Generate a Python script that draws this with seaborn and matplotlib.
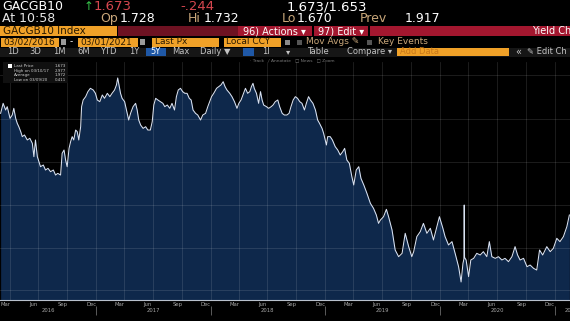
import matplotlib
matplotlib.use("Agg")
import matplotlib.pyplot as plt
import matplotlib.dates as mdates
from matplotlib.patches import Rectangle
import numpy as np
import pandas as pd
import seaborn as sns

# ---------------- data ----------------
start_date = "2016-03-01"
visible_days = 1816          # the screenshot is cropped a little before 03/01/2021
days_since_start = [
    2, 10, 18, 23, 32, 39, 44, 50, 55, 60,
    66, 71, 78, 87, 95, 103, 108, 113, 119, 129,
    138, 145, 153, 161, 170, 177, 184, 193, 198, 204,
    209, 214, 220, 225, 230, 235, 241, 246, 251, 257,
    260, 265, 273, 280, 288, 297, 304, 310, 318, 326,
    333, 342, 350, 357, 365, 371, 375, 380, 384, 389,
    397, 403, 410, 416, 424, 432, 437, 442, 448, 456,
    464, 471, 479, 485, 490, 496, 503, 511, 519, 525,
    533, 541, 548, 556, 562, 568, 575, 582, 589, 596,
    603, 609, 615, 623, 630, 639, 646, 655, 662, 668,
    674, 681, 690, 697, 704, 711, 717, 723, 732, 739,
    747, 755, 761, 768, 774, 782, 789, 796, 801, 806,
    810, 817, 824, 830, 835, 840, 849, 856, 864, 870,
    877, 885, 891, 899, 906, 914, 921, 927, 934, 941,
    948, 955, 962, 970, 976, 983, 989, 997, 1005, 1012,
    1018, 1026, 1031, 1036, 1040, 1044, 1052, 1059, 1068, 1076,
    1084, 1092, 1098, 1105, 1113, 1121, 1127, 1135, 1143, 1150,
    1159, 1169, 1180, 1190, 1199, 1206,
    1212, 1222, 1231, 1238, 1249, 1259, 1270, 1281, 1291, 1302, 1312, 1318, 1328, 1339, 1349, 1360,
    1371, 1381, 1392, 1400, 1411, 1418, 1429, 1440, 1450, 1461,
    1469, 1475, 1478, 1479, 1480, 1485, 1493, 1500, 1509, 1519, 1530, 1540, 1551, 1559, 1567, 1578,
    1588, 1599, 1609, 1620, 1631, 1641, 1649, 1657, 1668, 1679, 1689, 1700, 1710, 1719, 1729, 1742,
    1753, 1763, 1774, 1784, 1795, 1806, 1814]
yield_pct = [
    2.532, 2.658, 2.574, 2.616, 2.469, 2.511, 2.595, 2.469, 2.406, 2.364,
    2.302, 2.239, 2.260, 2.197, 2.218, 2.155, 1.987, 2.197, 1.987, 1.861,
    1.882, 1.819, 1.840, 1.798, 1.819, 1.756, 1.777, 1.756, 2.029, 2.071,
    1.945, 1.861, 2.092, 2.176, 2.239, 2.197, 2.322, 2.302, 2.197, 2.364,
    2.616, 2.700, 2.742, 2.805, 2.847, 2.826, 2.784, 2.700, 2.679, 2.763,
    2.721, 2.784, 2.742, 2.784, 2.826, 2.889, 2.977, 2.868, 2.784, 2.721,
    2.679, 2.574, 2.448, 2.532, 2.616, 2.658, 2.574, 2.448, 2.385, 2.343,
    2.364, 2.322, 2.322, 2.427, 2.637, 2.721, 2.700, 2.679, 2.658, 2.616,
    2.637, 2.595, 2.658, 2.574, 2.742, 2.826, 2.847, 2.805, 2.784, 2.784,
    2.721, 2.700, 2.574, 2.532, 2.511, 2.448, 2.511, 2.532, 2.616, 2.679,
    2.742, 2.784, 2.847, 2.868, 2.889, 2.930, 2.868, 2.826, 2.784, 2.742,
    2.679, 2.595, 2.658, 2.700, 2.763, 2.847, 2.784, 2.805, 2.868, 2.910,
    2.847, 2.784, 2.658, 2.805, 2.700, 2.637, 2.616, 2.595, 2.616, 2.637,
    2.679, 2.700, 2.616, 2.532, 2.511, 2.511, 2.532, 2.616, 2.700, 2.742,
    2.721, 2.679, 2.658, 2.574, 2.658, 2.742, 2.700, 2.658, 2.574, 2.448,
    2.406, 2.343, 2.281, 2.197, 2.134, 2.239, 2.239, 2.197, 2.113, 2.071,
    2.008, 2.050, 2.092, 1.945, 1.903, 1.736, 1.631, 1.819, 1.861, 1.714,
    1.631, 1.526, 1.400, 1.337, 1.253, 1.148,
    1.190, 1.232, 1.325, 1.232, 1.065, 0.813, 0.729, 0.771, 1.023, 0.855, 0.729, 0.792, 0.981, 1.044,
    1.148, 1.023, 1.086, 0.939, 1.107, 1.232, 1.086, 0.981, 0.876, 0.918, 0.771, 0.603,
    0.411, 0.645, 0.700, 1.379, 0.720, 0.687, 0.478, 0.687, 0.708, 0.771, 0.750, 0.792, 0.729, 0.918,
    0.729, 0.708, 0.729, 0.687, 0.708, 0.666, 0.729, 0.855, 0.750, 0.687, 0.708, 0.603, 0.624, 0.582,
    0.561, 0.813, 0.750, 0.855, 0.792, 0.834, 0.960, 0.918, 0.981, 1.107, 1.253]

legend_labels = ["Last Price", "High on 03/10/17", "Average", "Low on 03/09/20"]
legend_values = ["1.673", "2.977", "1.972", "0.411"]
period_buttons = ["1D", "3D", "1M", "6M", "YTD", "1Y", "5Y", "Max"]
year_labels = ["2016", "2017", "2018", "2019", "2020", "2021"]
year_label_dates = ["2016-08-01", "2017-07-02", "2018-07-02", "2019-07-02", "2020-07-02", "2021-02-25"]

# grid levels / range (no y labels are visible in the screenshot)
grid_levels = [3.015, 2.462, 1.920, 1.380, 0.839, 0.311]
y_range = (0.184, 3.178)

df = pd.DataFrame({
    "date": pd.Timestamp(start_date) + pd.to_timedelta(days_since_start, unit="D"),
    "yield": yield_pct,
})
x_start = pd.Timestamp(start_date)
x_end = x_start + pd.Timedelta(days=visible_days)

# ---------------- figure ----------------
W, H = 570, 321
fig = plt.figure(figsize=(W / 100, H / 100), dpi=100, facecolor="black")
plt.rcParams["font.family"] = ["DejaVu Sans"]


def fx(x):
    return x / W


def fy(y):
    return 1 - y / H


def box(x0, y0, x1, y1, color, z=0):
    fig.patches.append(Rectangle((fx(x0), fy(y1)), (x1 - x0) / W, (y1 - y0) / H,
                                 transform=fig.transFigure, facecolor=color, edgecolor="none", zorder=z))


def txt(x, y, s, color, size, **kw):
    fig.text(fx(x), fy(y), s, color=color, fontsize=size, va="center", ha=kw.pop("ha", "left"), **kw)


ORANGE = "#f0a128"
RED = "#a3172f"
DARKRED = "#6e1222"
TAN = "#c9a77a"
GRAYTXT = "#c4c4c4"

# Row 1
txt(2, 6.5, "GACGB10", "white", 9)
txt(84, 6.5, "\u2191", "#36c24a", 8.5)
txt(94, 6.5, "1.673", "#d6474f", 9.5)
txt(180, 6.5, "-.244", "#d6474f", 9.5)
txt(287, 6.5, "1.673/1.653", "white", 9.5)
# Row 2
txt(2, 18.5, "At 10:58", "#e6e6e6", 9)
txt(100, 18.5, "Op", TAN, 9)
txt(120, 18.5, "1.728", "white", 9)
txt(188, 18.5, "Hi", TAN, 9)
txt(204, 18.5, "1.732", "white", 9)
txt(282, 18.5, "Lo", TAN, 9)
txt(297, 18.5, "1.670", "white", 9)
txt(360, 18.5, "Prev", TAN, 9)
txt(405, 18.5, "1.917", "white", 9)
# Row 3
box(0, 26, 117, 36, ORANGE)
txt(3, 31, "GACGB10 Index", "#2a1a00", 7.5)
box(118, 26, 238, 36, DARKRED)
box(238, 26, 570, 36, RED)
box(312, 26, 314, 36, "black", 1)
box(368, 26, 370, 36, "black", 1)
txt(243, 31, "96) Actions \u25be", "white", 7)
txt(318, 31, "97) Edit \u25be", "white", 7)
txt(532, 31, "Yield Ch", "white", 7)
# Row 4
box(1, 37.5, 59, 46.5, ORANGE)
txt(3, 42, "03/02/2016", "#2a1a00", 6.5)
box(61, 39, 66, 45, "#9a9a9a")
txt(70, 42, "-", "white", 6.5)
box(78, 37.5, 138, 46.5, ORANGE)
txt(80, 42, "03/01/2021", "#2a1a00", 6.5)
box(140, 39, 145, 45, "#9a9a9a")
box(152, 37.5, 219, 46.5, ORANGE)
txt(155, 42, "Last Px", "#2a1a00", 6.5)
box(224, 37.5, 281, 46.5, ORANGE)
txt(226, 42, "Local CCY", "#2a1a00", 6.5)
box(285, 39.5, 290, 44.5, "#8a8a8a")
box(297, 39.5, 302, 44.5, "#555555")
txt(306, 42, "Mov Avgs \u270e", TAN, 6.5)
box(367, 39.5, 372, 44.5, "#555555")
txt(378, 42, "Key Events", TAN, 6.5)
# Row 5
box(0, 47.5, 570, 56.5, "#161616")
btn_x = [7, 29, 53, 77, 100, 129, 150, 172]
for bx, lab in zip(btn_x, period_buttons):
    if lab == "5Y":
        box(146, 48, 166, 56, "#1f58a6", 1)
        txt(bx, 52, lab, "white", 6)
    else:
        txt(bx, 52, lab, GRAYTXT, 6)
txt(200, 52, "Daily \u25bc", GRAYTXT, 6)
box(243, 48, 254, 56, "#1f58a6", 1)
txt(262, 52, "1I", GRAYTXT, 6)
txt(286, 52, "\u25be", GRAYTXT, 6)
txt(307, 52, "Table", GRAYTXT, 6)
txt(347, 52, "Compare \u25be", GRAYTXT, 6)
box(397, 48, 509, 56, ORANGE, 1)
txt(400, 52, "Add Data", "#c8781a", 6)
txt(515, 52, "\u00ab", GRAYTXT, 7)
txt(527, 52, "\u270e Edit Ch", GRAYTXT, 6)
# Row 6 hints
txt(250, 60, "\u00b7 Track   \u2215 Annotate   \u25a1 News   \u25a1 Zoom", "#7a7a7a", 3.2)

# ---------------- main chart ----------------
top, bottom = 62, 300
ax = fig.add_axes([0, fy(bottom), 1, (bottom - top) / H])
ax.set_facecolor("black")
ax.fill_between(df["date"], df["yield"], y_range[0], color="#0e284b", linewidth=0, zorder=1)
sns.lineplot(data=df, x="date", y="yield", ax=ax, color="#d9e2f2", linewidth=0.75, zorder=4)
ax.set_ylim(*y_range)
ax.set_xlim(x_start, x_end)
ax.set_xlabel("")
ax.set_ylabel("")

ax.set_yticks(grid_levels)
ax.tick_params(axis="y", length=0, labelleft=False)
ax.xaxis.set_major_locator(mdates.MonthLocator(bymonth=[1, 4, 7, 10]))
ax.tick_params(axis="x", which="major", length=0, labelbottom=False)
ax.grid(True, which="major", color="white", alpha=0.13, linewidth=0.6)
ax.set_axisbelow(False)

months = pd.date_range(x_start, x_end, freq="MS")
label_months = [m for m in months if m.month in (3, 6, 9, 12)]
ax.set_xticks(label_months, minor=True)
ax.set_xticklabels([m.strftime("%b") for m in label_months], minor=True, ha="left")
ax.tick_params(axis="x", which="minor", length=0, pad=1.5, labelsize=3.8, colors="#a8a8a8")

for s in ["top", "left", "right"]:
    ax.spines[s].set_visible(False)
ax.spines["bottom"].set_color("#b8c0cc")
ax.spines["bottom"].set_linewidth(0.8)

xt = ax.get_xaxis_transform()
for lab, d in zip(year_labels, year_label_dates):
    ax.text(pd.Timestamp(d), -0.045, lab, transform=xt, ha="center", va="center",
            fontsize=3.8, color="#a8a8a8", clip_on=False)
jan_firsts = [pd.Timestamp(f"{y}-01-01") for y in range(2017, 2022)]
ax.vlines(jan_firsts, -0.065, -0.025, transform=xt, color="#6a6a6a", linewidth=0.6, clip_on=False)

# legend box
box(3, 62, 68, 83, "#101010", 5)
box(8, 64, 12, 68, "white", 6)
for i, (lab, val) in enumerate(zip(legend_labels, legend_values)):
    yy = 66 + i * 4.6
    txt(14, yy, lab, "#d0d0d0", 2.9, zorder=7)
    txt(66, yy, val, "#d0d0d0", 2.9, ha="right", zorder=7)

fig.savefig("out.png", dpi=100, facecolor="black")
